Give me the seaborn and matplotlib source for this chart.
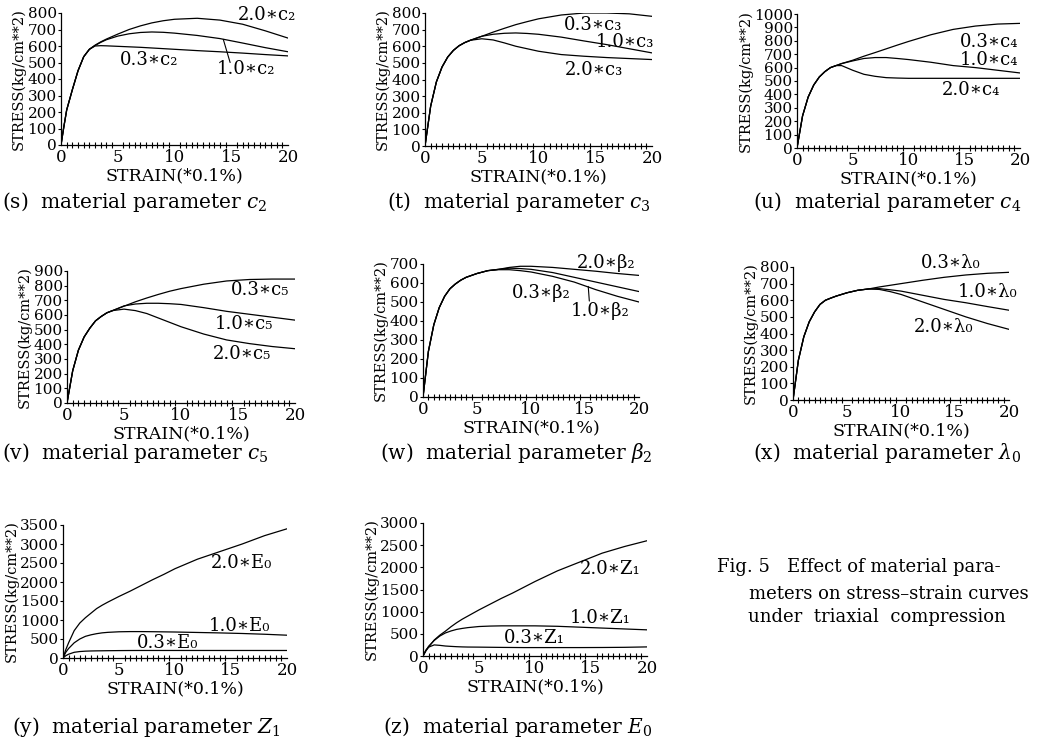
import numpy as np
import pandas as pd
import matplotlib
matplotlib.use("Agg")
import matplotlib.pyplot as plt
from matplotlib.ticker import MultipleLocator
import seaborn as sns

W, H = 1038, 741

# strain grid (x 0.1%) shared by all curves
strain = [0, 0.25, 0.5, 1, 1.5, 2, 2.5, 3, 3.5, 4, 5, 6, 7, 8, 9, 10, 12, 14, 16, 18, 20]

# (s) c2
s_03 = [0, 110, 212, 335, 450, 535, 580, 600, 602, 601, 598, 595, 592, 588, 584, 580, 572, 565, 557, 548, 540]
s_10 = [0, 110, 212, 335, 450, 535, 580, 603, 622, 638, 660, 674, 682, 685, 683, 678, 664, 645, 618, 590, 565]
s_20 = [0, 110, 212, 335, 450, 535, 580, 605, 625, 642, 672, 700, 722, 740, 753, 762, 768, 757, 732, 692, 648]

# (t) c3
t_03 = [0, 120, 240, 385, 475, 535, 575, 603, 622, 636, 660, 685, 708, 730, 748, 765, 788, 800, 800, 795, 780]
t_10 = [0, 120, 240, 385, 475, 535, 575, 603, 622, 636, 660, 672, 678, 680, 677, 672, 655, 632, 610, 585, 560]
t_20 = [0, 120, 240, 385, 475, 535, 575, 603, 622, 636, 645, 638, 620, 600, 585, 570, 550, 540, 532, 526, 520]

# (u) c4
u_03 = [0, 120, 240, 380, 470, 530, 570, 600, 615, 630, 655, 685, 712, 740, 768, 795, 845, 885, 910, 925, 930]
u_10 = [0, 120, 240, 380, 470, 530, 570, 600, 615, 630, 650, 668, 675, 675, 668, 660, 640, 615, 600, 580, 560]
u_20 = [0, 120, 240, 380, 470, 530, 570, 600, 615, 615, 580, 550, 535, 525, 522, 520, 520, 520, 520, 520, 520]

# (v) c5
v_03 = [0, 110, 220, 360, 450, 510, 560, 590, 615, 630, 660, 690, 716, 740, 762, 780, 810, 832, 842, 845, 845]
v_10 = [0, 110, 220, 360, 450, 510, 560, 590, 615, 630, 662, 675, 680, 680, 677, 672, 650, 625, 605, 585, 565]
v_20 = [0, 110, 220, 360, 450, 510, 560, 590, 615, 630, 640, 630, 610, 580, 550, 520, 470, 430, 405, 385, 370]

# (w) beta2
w_20 = [0, 120, 240, 380, 470, 530, 570, 595, 615, 630, 650, 665, 672, 682, 688, 688, 682, 672, 662, 650, 640]
w_03 = [0, 120, 240, 380, 470, 530, 570, 595, 615, 630, 650, 665, 672, 678, 676, 672, 655, 630, 605, 580, 555]
w_10 = [0, 120, 240, 380, 470, 530, 570, 595, 615, 630, 650, 665, 670, 670, 665, 658, 635, 605, 565, 530, 500]

# (x) lambda0
x_03 = [0, 120, 240, 380, 470, 530, 575, 600, 613, 625, 645, 660, 668, 680, 690, 700, 720, 738, 752, 762, 768]
x_10 = [0, 120, 240, 380, 470, 530, 575, 600, 613, 625, 645, 660, 668, 670, 663, 655, 630, 605, 585, 562, 540]
x_20 = [0, 120, 240, 380, 470, 530, 575, 600, 613, 625, 645, 660, 668, 665, 652, 635, 590, 545, 500, 460, 425]

# (y) E0
y_20 = [0, 220, 400, 720, 920, 1060, 1180, 1300, 1390, 1470, 1620, 1760, 1910, 2060, 2200, 2350, 2600, 2800, 3000, 3220, 3400]
y_10 = [0, 150, 250, 400, 500, 570, 610, 640, 662, 675, 690, 695, 695, 692, 688, 684, 672, 660, 645, 625, 600]
y_03 = [0, 60, 100, 150, 170, 180, 185, 188, 190, 192, 195, 197, 198, 198, 198, 198, 198, 198, 198, 198, 198]

# (z) Z1
z_20 = [0, 110, 200, 360, 470, 560, 660, 750, 830, 900, 1040, 1170, 1300, 1420, 1550, 1680, 1920, 2120, 2320, 2470, 2600]
z_10 = [0, 120, 220, 350, 450, 520, 565, 600, 622, 640, 665, 675, 680, 680, 680, 680, 670, 650, 630, 610, 590]
z_03 = [0, 130, 200, 250, 240, 225, 217, 210, 205, 202, 200, 197, 194, 192, 190, 190, 190, 190, 192, 196, 205]

sns.set_theme(style="white")
plt.rcParams["font.family"] = ["DejaVu Serif", "DejaVu Sans"]
plt.rcParams["mathtext.fontset"] = "dejavuserif"

fig = plt.figure(figsize=(W / 100, H / 100), dpi=100)
fig.patch.set_facecolor("white")


def px_axes(left, top, right, bottom):
    return fig.add_axes([left / W, 1 - bottom / H, (right - left) / W, (bottom - top) / H])


def draw_panel(box, ymax, ystep, curves, labels, leader=None):
    ax = px_axes(*box)
    rows = []
    for name, vals in curves.items():
        for xv, yv in zip(strain, vals):
            rows.append({"strain": xv, "stress": yv, "curve": name})
    df = pd.DataFrame(rows)
    sns.lineplot(data=df, x="strain", y="stress", units="curve", estimator=None,
                 color="black", lw=0.9, ax=ax, legend=False)
    ax.set_xlim(0, 20)
    ax.set_ylim(0, ymax)
    ax.set_facecolor("white")
    for side in ["top", "right"]:
        ax.spines[side].set_visible(False)
    for side in ["left", "bottom"]:
        ax.spines[side].set_color("black")
        ax.spines[side].set_linewidth(0.9)
    ax.xaxis.set_major_locator(MultipleLocator(5))
    ax.xaxis.set_minor_locator(MultipleLocator(0.5))
    ax.yaxis.set_major_locator(MultipleLocator(ystep))
    ax.tick_params(axis="x", which="major", direction="inout", length=6, width=0.8,
                   labelsize=12, pad=0, colors="black")
    ax.tick_params(axis="x", which="minor", direction="inout", length=4, width=0.8,
                   colors="black", bottom=True)
    ax.tick_params(axis="y", which="major", direction="out", length=2, width=0.8,
                   labelsize=11, pad=1, colors="black", left=True)
    ax.set_xlabel("STRAIN(*0.1%)", fontsize=12.5, color="black", labelpad=1)
    ax.set_ylabel("STRESS(kg/cm**2)", fontsize=10.5, color="black", labelpad=1)
    for text, tx, ty in labels:
        ax.text(tx, ty, text, fontsize=13, color="black", va="center", ha="left",
                clip_on=False)
    if leader is not None:
        (x0, y0), (x1, y1) = leader
        ax.plot([x0, x1], [y0, y1], color="black", lw=0.8, clip_on=False)
    return ax


draw_panel((61, 13, 288, 145), 800, 100,
           {"0.3": s_03, "1.0": s_10, "2.0": s_20},
           [("2.0∗c₂", 15.6, 785), ("0.3∗c₂", 5.2, 515), ("1.0∗c₂", 13.7, 460)],
           leader=((14.9, 500), (14.3, 640)))
draw_panel((425, 13, 652, 146), 800, 100,
           {"0.3": t_03, "1.0": t_10, "2.0": t_20},
           [("0.3∗c₃", 12.2, 728), ("1.0∗c₃", 15.0, 626), ("2.0∗c₃", 12.3, 457)])
draw_panel((797, 14, 1020, 148), 1000, 100,
           {"0.3": u_03, "1.0": u_10, "2.0": u_20},
           [("0.3∗c₄", 14.6, 793), ("1.0∗c₄", 14.6, 659), ("2.0∗c₄", 13.0, 430)])
draw_panel((67, 271, 295, 403), 900, 100,
           {"0.3": v_03, "1.0": v_10, "2.0": v_20},
           [("0.3∗c₅", 14.4, 768), ("1.0∗c₅", 13.0, 541), ("2.0∗c₅", 12.8, 336)])
draw_panel((423, 264, 639, 397), 700, 100,
           {"2.0": w_20, "0.3": w_03, "1.0": w_10},
           [("2.0∗β₂", 14.2, 705), ("0.3∗β₂", 8.2, 546), ("1.0∗β₂", 13.7, 450)],
           leader=((15.4, 505), (15.3, 582)))
draw_panel((793, 267, 1009, 400), 800, 100,
           {"0.3": x_03, "1.0": x_10, "2.0": x_20},
           [("0.3∗λ₀", 11.8, 824), ("1.0∗λ₀", 15.3, 650), ("2.0∗λ₀", 11.2, 440)])
draw_panel((63, 525, 287, 658), 3500, 500,
           {"2.0": y_20, "1.0": y_10, "0.3": y_03},
           [("2.0∗E₀", 13.2, 2510), ("1.0∗E₀", 13.0, 830), ("0.3∗E₀", 6.6, 394)])
draw_panel((423, 523, 647, 656), 3000, 500,
           {"2.0": z_20, "1.0": z_10, "0.3": z_03},
           [("2.0∗Z₁", 14.0, 1960), ("1.0∗Z₁", 13.1, 852), ("0.3∗Z₁", 7.2, 400)])

captions = [
    (2, 202, r"(s)  material parameter $c_2$"),
    (387, 202, r"(t)  material parameter $c_3$"),
    (753, 202, r"(u)  material parameter $c_4$"),
    (2, 453, r"(v)  material parameter $c_5$"),
    (380, 453, r"(w)  material parameter $\beta_2$"),
    (753, 453, r"(x)  material parameter $\lambda_0$"),
    (12, 727, r"(y)  material parameter $Z_1$"),
    (383, 727, r"(z)  material parameter $E_0$"),
]
for cx, cy, ctext in captions:
    fig.text(cx / W, 1 - cy / H, ctext, fontsize=14.5, color="black", va="center", ha="left")

fig_caption = [
    (717, 567, "Fig. 5   Effect of material para-"),
    (749, 594, "meters on stress–strain curves"),
    (748, 617, "under  triaxial  compression"),
]
for cx, cy, ctext in fig_caption:
    fig.text(cx / W, 1 - cy / H, ctext, fontsize=13, color="black", va="center", ha="left")

fig.savefig("out.png", dpi=100)
